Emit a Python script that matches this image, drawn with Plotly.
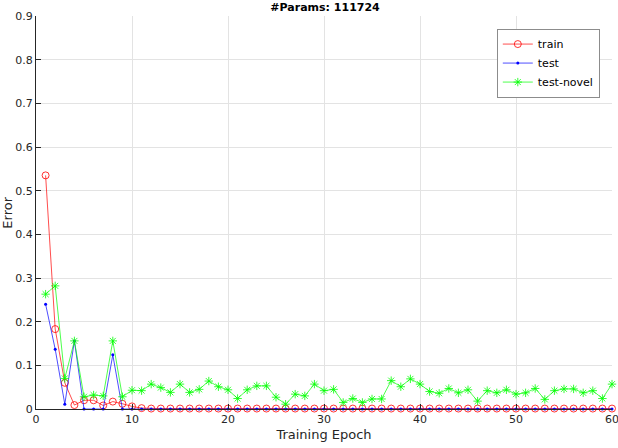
import plotly.graph_objects as go

epochs = list(range(1, 61))

train = [0.535, 0.183, 0.060, 0.009, 0.020, 0.020, 0.008, 0.017, 0.012, 0.006,
         0.002, 0.001, 0.001, 0.001, 0.001, 0.001, 0.001, 0.001, 0.001, 0.001,
         0.001, 0.001, 0.001, 0.001, 0.001, 0.001, 0.001, 0.001, 0.001, 0.001,
         0.001, 0.001, 0.001, 0.001, 0.001, 0.001, 0.001, 0.001, 0.001, 0.001,
         0.001, 0.001, 0.001, 0.001, 0.001, 0.001, 0.001, 0.001, 0.001, 0.001,
         0.001, 0.001, 0.001, 0.001, 0.001, 0.001, 0.001, 0.001, 0.001, 0.001]

test = [0.240, 0.137, 0.011, 0.156, 0.000, 0.000, 0.000, 0.124, 0.000, 0.000] + [0.0] * 50

test_novel = [0.263, 0.282, 0.070, 0.156, 0.028, 0.032, 0.030, 0.156, 0.028, 0.043,
              0.042, 0.057, 0.049, 0.038, 0.057, 0.038, 0.045, 0.064, 0.051, 0.044,
              0.024, 0.044, 0.053, 0.053, 0.027, 0.011, 0.034, 0.030, 0.057, 0.042,
              0.045, 0.015, 0.024, 0.015, 0.023, 0.023, 0.065, 0.051, 0.069, 0.057,
              0.040, 0.036, 0.047, 0.037, 0.044, 0.018, 0.042, 0.037, 0.044, 0.034,
              0.037, 0.047, 0.022, 0.042, 0.046, 0.046, 0.037, 0.042, 0.024, 0.057]

x_ticks = [0, 10, 20, 30, 40, 50, 60]
x_tick_labels = ["0", "10", "20", "30", "40", "50", "60"]
y_ticks = [0, 0.1, 0.2, 0.3, 0.4, 0.5, 0.6, 0.7, 0.8, 0.9]
y_tick_labels = ["0", "0.1", "0.2", "0.3", "0.4", "0.5", "0.6", "0.7", "0.8", "0.9"]

FONT = "DejaVu Sans"
AX = "#262626"

fig = go.Figure()
fig.add_trace(go.Scatter(
    x=epochs, y=train, name="train", mode="lines+markers",
    line=dict(color="#ff0000", width=0.7),
    marker=dict(symbol="circle-open", size=7, color="#ff0000", line=dict(width=0.8, color="#ff0000")),
    cliponaxis=False))
fig.add_trace(go.Scatter(
    x=epochs, y=test, name="test", mode="lines+markers",
    line=dict(color="#0000ff", width=0.7),
    marker=dict(symbol="circle", size=3, color="#0000ff"),
    cliponaxis=False))
fig.add_trace(go.Scatter(
    x=epochs, y=test_novel, name="test-novel", mode="lines+markers",
    line=dict(color="#00ff00", width=0.7),
    marker=dict(symbol="asterisk-open", size=7, color="#00ff00", line=dict(width=0.8, color="#00ff00")),
    cliponaxis=False))

# tick labels: last one ("60") is drawn as an annotation because it overhangs the right edge
shown_x_labels = x_tick_labels[:-1] + [""]

fig.update_layout(
    width=618, height=448,
    margin=dict(l=36, r=6, t=16, b=39),
    paper_bgcolor="white", plot_bgcolor="white",
    font=dict(family=FONT, size=11, color=AX),
    title=dict(text="<b>#Params: 111724</b>", x=0.526, xanchor="center", y=0.983, yanchor="middle",
               font=dict(family=FONT, size=11, color="black")),
    showlegend=True,
    legend=dict(x=0.8, xanchor="left", y=0.968, yanchor="top",
                bgcolor="white", bordercolor="#8c8c8c", borderwidth=1,
                font=dict(family=FONT, size=11, color="black"),
                tracegroupgap=0, itemwidth=30),
    xaxis=dict(range=[0, 60], tickvals=x_ticks, ticktext=shown_x_labels,
               showgrid=True, gridcolor="#e3e3e3", gridwidth=1,
               showline=True, linecolor=AX, linewidth=1,
               ticks="inside", ticklen=5, tickcolor=AX,
               zeroline=False, tickfont=dict(size=11, color=AX),
               title=dict(text="Training Epoch", font=dict(size=13, color=AX), standoff=4)),
    yaxis=dict(range=[0, 0.9], tickvals=y_ticks, ticktext=y_tick_labels,
               showgrid=True, gridcolor="#e3e3e3", gridwidth=1,
               showline=True, linecolor=AX, linewidth=1,
               ticks="inside", ticklen=5, tickcolor=AX,
               zeroline=False, tickfont=dict(size=11, color=AX)),
    annotations=[
        dict(text="Error", textangle=-90, xref="paper", yref="paper",
             x=-0.05, y=0.5, xanchor="center", yanchor="middle", showarrow=False,
             font=dict(family=FONT, size=13, color=AX)),
        dict(text=x_tick_labels[-1], xref="x", yref="paper", x=x_ticks[-1], y=0,
             xanchor="center", yanchor="top", yshift=-2, showarrow=False,
             font=dict(family=FONT, size=11, color=AX)),
    ],
)

fig.write_html("out.html")
